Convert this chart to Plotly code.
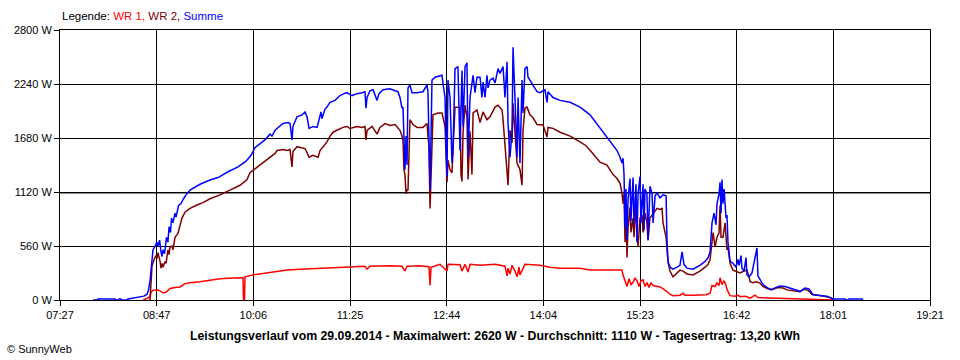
import plotly.graph_objects as go
import numpy as np

# ---- axis data ----
tick_labels = ["07:27", "08:47", "10:06", "11:25", "12:44", "14:04", "15:23", "16:42", "18:01", "19:21"]
x_start_min = 447     # 07:27 in minutes since midnight
x_end_min = 1161      # 19:21
y_ticks = [0, 560, 1120, 1680, 2240, 2800]

# ---- summary values ----
max_value = 2620
avg_value = 1110
day_yield = "13,20"
date_str = "29.09.2014"

# ---- Summe (blue): time in minutes since midnight, power in W ----
t_summe = [474.1, 477.4, 478.2, 492.1, 493.0, 494.6, 495.4, 497.1, 497.9, 502.0, 502.8, 508.6, 512.7, 515.9,
           518.4, 519.6, 520.9, 522.1, 523.3, 525.0, 526.6, 527.4, 528.7, 529.9, 530.7, 531.5, 532.8, 534.4,
           535.6, 536.5, 537.7, 538.5, 539.7, 541.4, 542.2, 544.3, 546.3, 548.4, 550.4, 553.7, 557.8, 561.9,
           570.1, 576.7, 584.9, 593.1, 599.7, 603.8, 607.0, 611.1, 615.2, 619.3, 621.0, 623.5, 627.6, 630.0,
           634.1, 635.8, 637.4, 638.2, 641.5, 645.6, 648.1, 649.7, 651.4, 654.6, 658.0, 659.6, 661.2, 662.0,
           664.5, 666.1, 668.6, 672.7, 676.8, 680.1, 682.5, 686.6, 690.8, 694.9, 697.3, 698.1, 699.0, 701.4,
           703.9, 707.2, 708.8, 712.1, 717.8, 722.0, 724.4, 726.0, 727.7, 728.5, 729.3, 730.1, 731.0, 731.8,
           732.6, 734.2, 735.9, 740.0, 744.9, 748.2, 749.0, 749.8, 750.7, 751.5, 752.3, 754.8, 760.5, 761.3,
           763.0, 763.8, 764.6, 765.4, 767.1, 768.7, 769.5, 771.2, 773.6, 775.3, 776.9, 777.8, 779.4, 781.0,
           781.9, 783.5, 786.0, 787.6, 789.2, 791.7, 793.3, 794.2, 795.8, 797.4, 798.3, 799.9, 802.4, 804.0,
           805.7, 806.5, 808.1, 810.6, 812.2, 813.9, 814.7, 816.3, 818.0, 818.8, 820.4, 822.1, 822.9, 824.5,
           826.2, 827.0, 828.6, 830.3, 831.1, 832.7, 835.2, 838.5, 840.9, 845.0, 846.7, 847.5, 851.6, 857.4,
           865.6, 873.8, 882.0, 890.2, 898.4, 904.2, 906.6, 908.2, 909.1, 909.9, 910.7, 911.5, 912.3, 913.2,
           914.8, 915.6, 917.3, 918.1, 919.7, 920.5, 921.4, 923.0, 923.8, 925.5, 926.3, 927.1, 928.7, 929.6,
           931.2, 932.9, 933.7, 935.4, 937.0, 939.4, 941.9, 944.4, 945.2, 946.0, 947.6, 950.1, 953.4, 955.8,
           957.5, 959.1, 961.6, 966.5, 972.2, 976.4, 978.9, 980.5, 982.1, 983.8, 985.4, 986.2, 987.9, 988.7,
           989.5, 990.3, 991.1, 992.0, 993.6, 994.4, 995.2, 996.9, 999.3, 1001.8, 1003.4, 1004.3, 1005.9,
           1006.7, 1008.4, 1010.0, 1010.8, 1012.5, 1014.9, 1017.4, 1019.0, 1019.8, 1021.5, 1023.9, 1027.2,
           1030.5, 1034.6, 1037.9, 1042.0, 1046.1, 1051.9, 1054.3, 1058.4, 1061.7, 1065.0, 1070.7, 1076.5,
           1080.6, 1082.2, 1091.2, 1092.1, 1093.7, 1094.5, 1105.2, 1106.0]
summe = [0, 0, 10, 10, 0, 0, 10, 10, 0, 0, 10, 20, 30, 40,
         60, 100, 200, 400, 520, 560, 600, 560, 620, 500, 450, 520, 480, 650,
         600, 760, 700, 850, 800, 900, 860, 980, 1000, 1050, 1090, 1140, 1170, 1200,
         1245, 1270, 1330, 1380, 1440, 1500, 1580, 1620, 1660, 1720, 1700, 1760, 1800, 1830,
         1840, 1830, 1660, 1800, 1900, 1920, 1950, 1900, 1780, 1800, 1790, 1880, 1950, 1880,
         1980, 2000, 2050, 2070, 2120, 2140, 2150, 2120, 2140, 2150, 2160, 1990, 2100, 2170,
         2180, 2070, 2140, 2180, 2190, 2170, 2160, 2100, 1990, 2000, 1500, 1350, 1700, 1400,
         2200, 2230, 2150, 2150, 2160, 2230, 2150, 1700, 1140, 1700, 2280, 2310, 2330, 2250,
         2100, 1600, 1280, 2280, 2100, 1420, 1550, 2400, 2420, 1550, 2380, 1800, 2420, 2460,
         1480, 2100, 2330, 2150, 2310, 2310, 2100, 2260, 2100, 2330, 2200, 2280, 2300, 2250,
         2350, 2400, 2350, 2420, 2100, 2470, 1830, 1480, 1760, 2620, 2100, 1480, 2100, 1420,
         2280, 1940, 2400, 2420, 2310, 2280, 2220, 2160, 2150, 2180, 2050, 2160, 2100, 2070,
         2050, 2000, 1920, 1780, 1640, 1550, 1480, 1420, 1470, 1300, 750, 1150, 620, 1050,
         1260, 820, 1270, 780, 1200, 600, 1100, 1280, 800, 1200, 720, 1150, 1100, 620,
         1180, 1100, 800, 1080, 1110, 1060, 1090, 1080, 600, 400, 340, 320, 340, 360,
         500, 370, 330, 320, 360, 400, 440, 500, 800, 900, 780, 1000, 1100, 1220,
         900, 1250, 1000, 1150, 850, 880, 600, 400, 380, 340, 420, 360, 460,
         330, 300, 440, 260, 240, 280, 420, 540, 250, 210, 160, 130,
         105, 130, 145, 140, 125, 100, 90, 125, 115, 55, 45, 40,
         15, 10, 10, 0, 0, 10, 10, 0]

# ---- WR 2 (dark red) ----
t_wr2 = [520.9, 521.7, 522.5, 524.2, 525.8, 526.6, 527.4, 529.1, 529.9, 530.7, 531.5, 533.2, 534.0, 535.6,
         536.5, 537.3, 538.9, 539.7, 541.4, 543.8, 545.5, 547.1, 549.6, 553.7, 559.4, 564.4, 570.1, 578.3,
         586.5, 594.7, 600.5, 602.9, 607.0, 611.1, 615.2, 619.3, 623.5, 625.1, 630.0, 633.3, 635.8, 637.4,
         638.2, 641.5, 645.6, 648.1, 649.7, 651.4, 654.6, 658.8, 660.4, 662.8, 666.1, 668.6, 671.1, 674.3,
         679.3, 682.5, 685.0, 690.8, 694.9, 697.3, 698.1, 699.0, 703.1, 707.2, 709.6, 713.7, 717.8, 722.0,
         724.4, 726.0, 727.7, 728.5, 729.3, 730.1, 731.0, 731.8, 732.6, 733.4, 734.2, 736.7, 740.0, 744.9,
         748.2, 749.0, 749.8, 750.7, 751.5, 752.3, 753.1, 757.2, 760.5, 763.0, 763.8, 764.6, 765.4, 767.1,
         768.7, 769.5, 771.2, 775.3, 776.1, 776.9, 777.8, 779.4, 781.0, 781.9, 783.5, 785.1, 786.0, 789.2,
         791.7, 794.2, 797.4, 799.9, 804.0, 806.5, 809.8, 810.6, 812.2, 813.9, 814.7, 816.3, 818.0, 818.8,
         820.4, 822.1, 824.5, 826.2, 827.0, 828.6, 830.3, 832.7, 835.2, 838.5, 843.4, 846.7, 847.5, 851.6,
         857.4, 865.6, 873.8, 878.7, 883.6, 890.2, 895.9, 898.4, 900.9, 904.2, 906.6, 908.2, 909.1, 909.9,
         910.7, 911.5, 912.3, 913.2, 914.8, 915.6, 917.3, 918.1, 919.7, 920.5, 921.4, 923.0, 924.7, 925.5,
         927.1, 928.7, 929.6, 931.2, 932.9, 935.4, 937.0, 939.4, 941.1, 941.9, 944.4, 946.0, 947.6, 950.1,
         953.4, 955.8, 958.3, 961.6, 966.5, 972.2, 976.4, 978.9, 980.5, 982.1, 983.0, 984.6, 986.2, 987.9,
         988.7, 989.5, 991.1, 992.8, 994.4, 995.2, 996.9, 999.3, 1002.6, 1005.1, 1008.4, 1010.8, 1012.5,
         1013.3, 1015.8, 1018.2, 1021.5, 1023.9, 1027.2, 1031.4, 1036.3, 1040.4, 1043.7, 1050.2, 1054.3,
         1057.6, 1060.9, 1064.2, 1069.1, 1074.9, 1079.0, 1081.4, 1082.2]
wr2 = [0, 150, 350, 420, 460, 430, 490, 400, 330, 380, 340, 400, 380, 520,
       470, 550, 560, 520, 650, 690, 760, 850, 910, 950, 985, 1010, 1050, 1090,
       1140, 1190, 1250, 1320, 1360, 1400, 1440, 1480, 1520, 1550, 1560, 1550, 1560, 1380,
       1540, 1590, 1580, 1570, 1530, 1480, 1500, 1480, 1550, 1590, 1640, 1700, 1740, 1760,
       1790, 1800, 1780, 1800, 1790, 1800, 1660, 1760, 1800, 1720, 1790, 1830, 1810, 1820,
       1790, 1760, 1700, 1650, 1350, 1300, 1100, 1140, 1140, 1600, 1870, 1820, 1790, 1790,
       1830, 1700, 1600, 950, 1250, 1650, 1920, 1940, 1940, 1800, 1500, 1220, 1450, 1350,
       1320, 1500, 2000, 2000, 1300, 1230, 1750, 2020, 1900, 1250, 1750, 1300, 1940, 1970,
       1840, 1950, 1870, 1900, 2000, 2020, 1970, 1870, 1600, 1380, 1190, 1760, 1630, 2040,
       1690, 1420, 1350, 1190, 1760, 1990, 2000, 1920, 1890, 1820, 1815, 1690, 1790, 1780,
       1740, 1700, 1640, 1600, 1530, 1430, 1400, 1350, 1300, 1260, 1210, 1110, 1000, 1100,
       600, 1000, 440, 750, 960, 700, 850, 650, 1000, 700, 550, 850, 880, 700,
       900, 800, 620, 850, 880, 930, 950, 940, 950, 800, 650, 390, 300, 240,
       280, 310, 300, 270, 260, 300, 340, 370, 420, 650, 700, 550, 650, 700,
       980, 650, 650, 800, 520, 550, 380, 310, 290, 280, 300, 310, 240,
       190, 180, 190, 175, 140, 120, 110, 130, 125, 105, 90, 85,
       110, 100, 60, 45, 35, 25, 5, 0]

# ---- WR 1 (red) ----
t_wr1 = [515.1, 516.8, 519.2, 520.9, 521.7, 523.3, 526.6, 529.1, 531.5, 534.0, 537.3, 541.4, 545.5, 549.6,
         553.7, 561.9, 570.1, 578.3, 589.0, 597.2, 597.6, 598.4, 598.8, 605.2, 613.6, 621.8, 633.3, 644.0,
         660.4, 676.8, 697.3, 699.0, 701.4, 717.8, 727.7, 730.1, 731.8, 742.5, 749.8, 750.7, 751.5, 758.9,
         764.6, 765.4, 775.3, 776.9, 779.4, 781.9, 783.5, 791.7, 804.0, 812.2, 813.9, 814.7, 816.3, 818.0,
         820.4, 822.1, 823.7, 824.5, 826.2, 828.6, 840.9, 849.1, 857.4, 873.8, 882.0, 890.2, 908.2, 909.1,
         910.7, 912.3, 914.0, 915.6, 917.3, 918.9, 920.5, 922.2, 923.8, 925.5, 927.1, 928.7, 930.4, 932.0,
         933.7, 936.2, 939.4, 942.7, 945.2, 947.6, 950.1, 955.8, 958.3, 959.9, 966.5, 977.2, 980.5, 982.1,
         984.6, 986.2, 987.9, 988.7, 990.3, 992.0, 993.6, 994.4, 996.9, 1001.0, 1003.4, 1005.1, 1009.2,
         1013.3, 1017.4, 1019.8, 1029.7, 1046.1, 1054.3, 1079.0, 1081.4]
wr1 = [0, 10, 20, 40, 80, 100, 105, 95, 75, 80, 120, 130, 135, 170,
       180, 190, 205, 220, 228, 230, 0, 0, 240, 260, 275, 290, 310, 320,
       330, 340, 350, 320, 350, 355, 350, 300, 350, 355, 345, 150, 340, 370,
       300, 370, 365, 300, 370, 290, 370, 360, 370, 350, 250, 330, 270, 360,
       300, 240, 340, 260, 300, 370, 360, 340, 330, 330, 310, 310, 310, 260,
       200, 140, 220, 160, 180, 230, 200, 140, 200, 210, 140, 180, 130, 180,
       150, 140, 135, 110, 85, 60, 45, 50, 70, 50, 50, 55, 70, 150,
       140, 175, 150, 230, 160, 200, 150, 110, 45, 40, 50, 35, 40,
       20, 50, 25, 20, 15, 10, 5, 0]

RED = "#FF0000"
DARKRED = "#800000"
BLUE = "#0000FF"
FONT = "Liberation Sans, Arial, sans-serif"

fig = go.Figure()
fig.add_trace(go.Scatter(x=t_wr1, y=wr1, mode="lines", line=dict(color=RED, width=1.5), name="WR 1"))
fig.add_trace(go.Scatter(x=t_wr2, y=wr2, mode="lines", line=dict(color=DARKRED, width=1.5), name="WR 2"))
fig.add_trace(go.Scatter(x=t_summe, y=summe, mode="lines", line=dict(color=BLUE, width=1.5), name="Summe"))

tick_vals = list(np.linspace(x_start_min, x_end_min, len(tick_labels)))

fig.update_xaxes(range=[x_start_min, x_end_min], tickvals=tick_vals, ticktext=tick_labels,
                 showgrid=True, gridcolor="black", gridwidth=1, zeroline=False,
                 showline=True, linecolor="black", linewidth=1, mirror=True,
                 ticks="outside", ticklen=5, tickcolor="black", tickwidth=1,
                 tickfont=dict(family=FONT, size=11, color="black"))
fig.update_yaxes(range=[0, y_ticks[-1]], tickvals=y_ticks, ticktext=[f"{v} W" for v in y_ticks],
                 showgrid=True, gridcolor="black", gridwidth=1, zeroline=False,
                 showline=True, linecolor="black", linewidth=1, mirror=True,
                 ticks="outside", ticklen=5, tickcolor="black", tickwidth=1,
                 tickfont=dict(family=FONT, size=11, color="black"))

# average line
fig.add_shape(type="line", xref="paper", x0=0, x1=1, yref="y", y0=avg_value, y1=avg_value,
              line=dict(color="#8C8C8C", width=2), layer="between")

legend_text = ("Legende: <span style='color:%s'>WR 1, </span><span style='color:%s'>WR 2, </span>"
               "<span style='color:%s'>Summe</span>") % (RED, DARKRED, BLUE)
title_text = ("<b>Leistungsverlauf vom %s - Maximalwert: %d W - Durchschnitt: %d W - "
              "Tagesertrag: %s kWh</b>") % (date_str, max_value, avg_value, day_yield)

fig.update_layout(
    width=960, height=360,
    margin=dict(l=60, r=30, t=30, b=60),
    paper_bgcolor="white", plot_bgcolor="white",
    showlegend=False,
    font=dict(family=FONT, size=11, color="black"),
    annotations=[
        dict(text=legend_text, xref="paper", yref="paper", x=0.0, y=1.052, xanchor="left", yanchor="middle",
             showarrow=False, font=dict(family=FONT, size=11.5, color="black")),
        dict(text=title_text, xref="paper", yref="paper", x=0.5, y=-0.133, xanchor="center", yanchor="middle",
             showarrow=False, font=dict(family=FONT, size=12.3, color="black")),
        dict(text="© SunnyWeb", xref="paper", yref="paper", x=-0.0632, y=-0.1815, xanchor="left",
             yanchor="middle", showarrow=False, font=dict(family=FONT, size=11, color="black")),
    ],
)

fig.write_html("out.html", config={"displayModeBar": False},
               post_script="document.body.style.margin='0';document.body.style.padding='0';")
